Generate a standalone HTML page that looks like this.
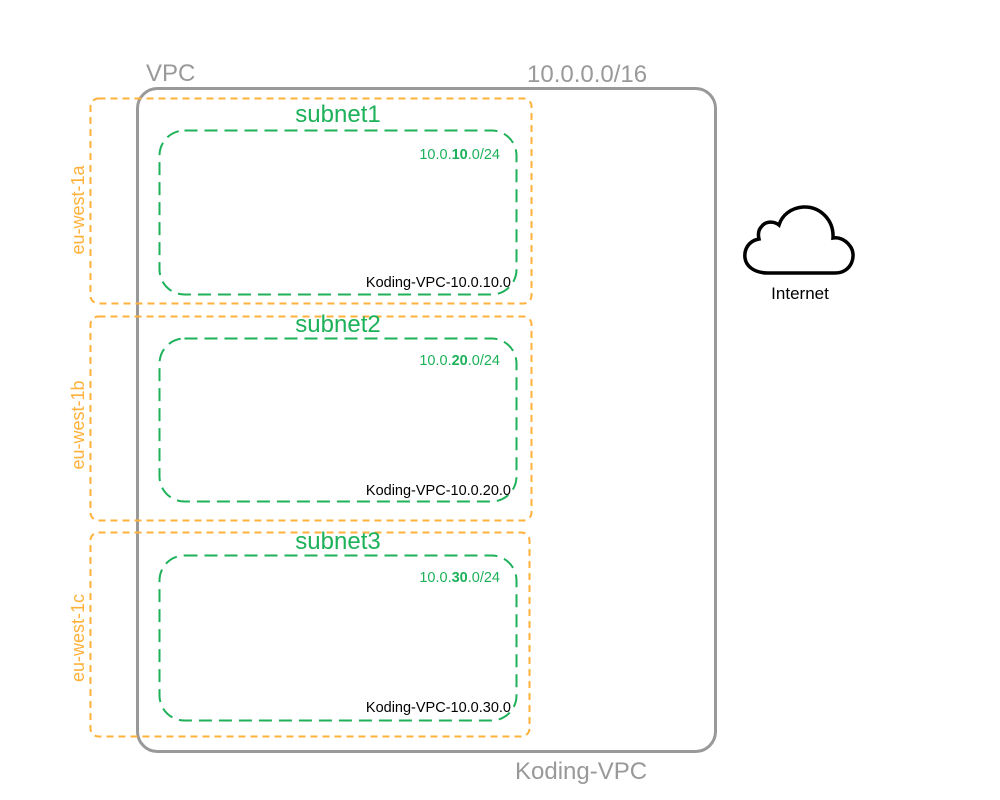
<!DOCTYPE html>
<html><head><meta charset="utf-8"><style>
html,body{margin:0;padding:0;background:#fff;width:1000px;height:800px;overflow:hidden}
text{font-family:"Liberation Sans",Arial,sans-serif}
</style></head><body>
<svg width="1000" height="800" viewBox="0 0 1000 800" xmlns="http://www.w3.org/2000/svg">
<rect x="137.5" y="88.5" width="578" height="663" rx="20" fill="none" stroke="#999" stroke-width="3"/>
<g fill="none" stroke="#FFB13B" stroke-width="2" stroke-dasharray="7 5">
<rect x="90.5" y="98.5" width="441" height="205" rx="8"/>
<rect x="90.5" y="316.5" width="441" height="204" rx="8"/>
<rect x="90.5" y="532.5" width="439" height="204" rx="8"/>
</g>
<g fill="none" stroke="#1DB15A" stroke-width="2" stroke-dasharray="13 7">
<rect x="159.5" y="130.5" width="357" height="164" rx="25"/>
<rect x="159.5" y="338.5" width="357" height="163" rx="25"/>
<rect x="159.5" y="555.5" width="357" height="165" rx="25"/>
</g>
<g fill="#999" font-size="24">
<text x="146" y="81">VPC</text>
<text x="527" y="82">10.0.0.0/16</text>
<text x="515" y="779">Koding-VPC</text>
</g>
<g fill="#1DB15A" font-size="24" text-anchor="middle">
<text x="338" y="122">subnet1</text>
<text x="338" y="332">subnet2</text>
<text x="338" y="549">subnet3</text>
</g>
<g fill="#1DB15A" font-size="14.5" text-anchor="end">
<text x="500" y="159">10.0.<tspan font-weight="bold">10</tspan>.0/24</text>
<text x="500" y="365">10.0.<tspan font-weight="bold">20</tspan>.0/24</text>
<text x="500" y="582">10.0.<tspan font-weight="bold">30</tspan>.0/24</text>
</g>
<g fill="#000" font-size="14.5" text-anchor="end">
<text x="511" y="287">Koding-VPC-10.0.10.0</text>
<text x="511" y="495">Koding-VPC-10.0.20.0</text>
<text x="511" y="712">Koding-VPC-10.0.30.0</text>
</g>
<g fill="#FFB13B" font-size="18" text-anchor="middle">
<text transform="translate(84,210) rotate(-90)">eu-west-1a</text>
<text transform="translate(84,425) rotate(-90)">eu-west-1b</text>
<text transform="translate(84,638) rotate(-90)">eu-west-1c</text>
</g>
<path d="M768,273 L835,273 C852,273 857,255 850,246 C845,239 838,237 833,238 C834,220 820,206 803,207 C791,208 782,215 779,225 C774,221 766,221 762,226 C758,230 758,235 759,239 C748,241 744,250 745,258 C746,266 754,273 768,273 Z" fill="#fff" stroke="#000" stroke-width="3.5"/>
<text x="800" y="299" font-size="17" text-anchor="middle" fill="#000">Internet</text>
</svg>
</body></html>
